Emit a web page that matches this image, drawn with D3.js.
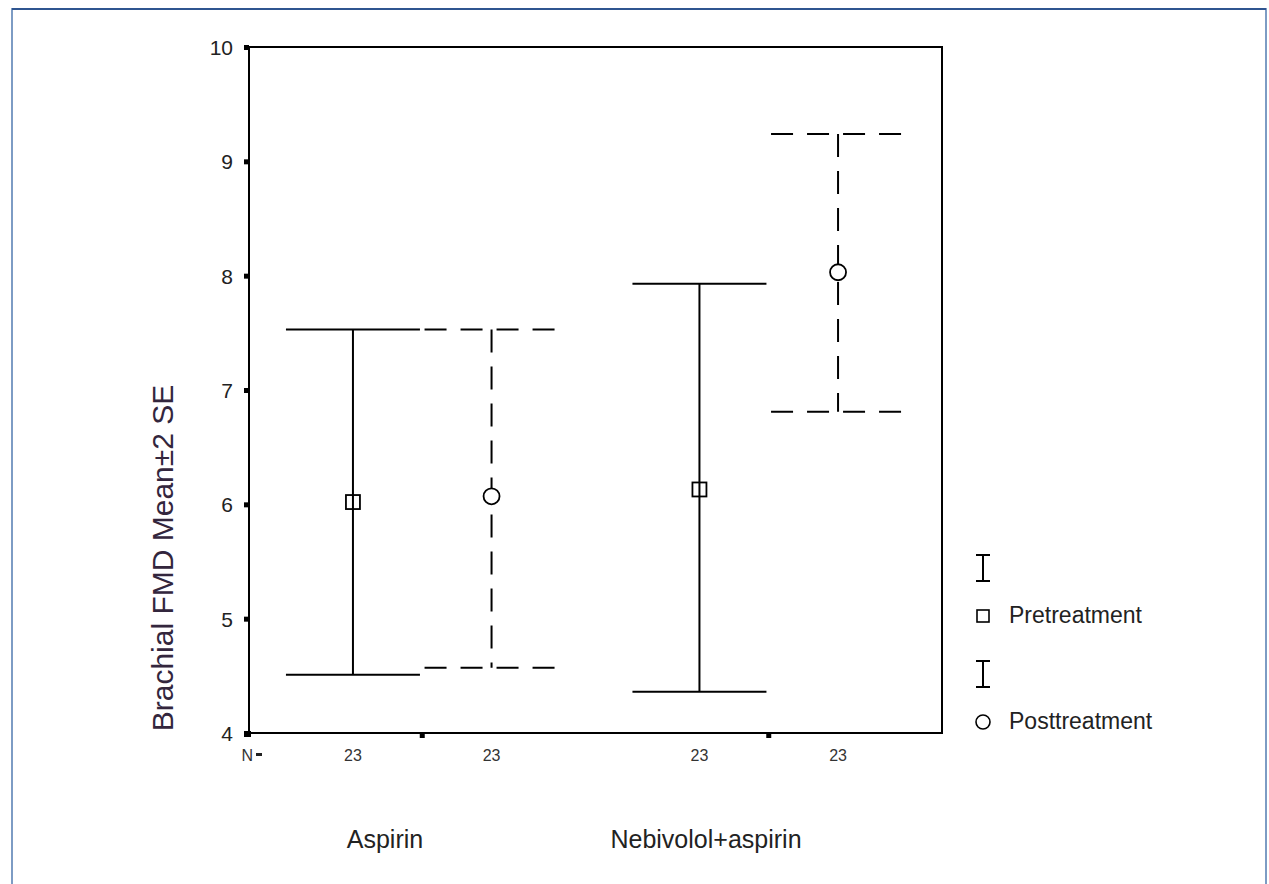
<!DOCTYPE html>
<html>
<head>
<meta charset="utf-8">
<script src="https://cdn.jsdelivr.net/npm/d3@7"></script>
<style>
  body { margin: 0; background: #fff; }
  text { font-family: "Liberation Sans", Arial, sans-serif; }
</style>
</head>
<body>
<svg id="chart" width="1269" height="884"></svg>
<script>
// data
const groups = ["Aspirin", "Nebivolol+aspirin"];
const series = ["Pretreatment", "Posttreatment"];
const preMean = [6.02, 6.13];
const preLow = [4.51, 4.36];
const preHigh = [7.53, 7.93];
const postMean = [6.07, 8.03];
const postLow = [4.57, 6.81];
const postHigh = [7.53, 9.24];
const nCount = [23, 23, 23, 23];
const yTicks = [4, 5, 6, 7, 8, 9, 10];

const svg = d3.select("#chart");

// page frame
svg.append("rect")
    .attr("x", 12).attr("y", 9)
    .attr("width", 1254).attr("height", 900)
    .attr("fill", "none")
    .attr("stroke", "#7d9cc4")
    .attr("stroke-width", 2);
svg.append("line")
    .attr("x1", 12).attr("x2", 1266)
    .attr("y1", 9).attr("y2", 9)
    .attr("stroke", "#2f5590")
    .attr("stroke-width", 2);

const plot = {left: 249, right: 942, top: 47, bottom: 733};

const y = d3.scaleLinear([4, 10], [plot.bottom, plot.top]);
const xg = d3.scaleBand(groups, [plot.left, plot.right]);
const xs = d3.scalePoint(series, [0, xg.bandwidth()]).padding(0.75);

const rows = [];
groups.forEach((g, i) => {
    rows.push({g: g, s: series[0], m: preMean[i], lo: preLow[i], hi: preHigh[i], n: nCount[i * 2]});
    rows.push({g: g, s: series[1], m: postMean[i], lo: postLow[i], hi: postHigh[i], n: nCount[i * 2 + 1]});
});
const px = d => xg(d.g) + xs(d.s);

// axes
const yAxis = svg.append("g")
    .attr("transform", "translate(" + plot.left + ",0)")
    .call(d3.axisLeft(y).tickValues(yTicks).tickFormat(d3.format("d")).tickSize(5).tickPadding(11));
yAxis.select(".domain").remove();
yAxis.selectAll("line").attr("stroke", "#000").attr("stroke-width", 5);
yAxis.selectAll("text")
    .attr("font-size", 21)
    .attr("fill", "#222")
    .attr("dy", "0.36em");

const xAxis = svg.append("g")
    .attr("transform", "translate(0," + plot.bottom + ")")
    .call(d3.axisBottom(xg).tickSize(5).tickFormat(""));
xAxis.select(".domain").remove();
xAxis.selectAll("line").attr("stroke", "#000").attr("stroke-width", 5);

// corner tick
svg.append("rect")
    .attr("x", plot.left - 5).attr("y", plot.bottom - 2)
    .attr("width", 7).attr("height", 6)
    .attr("fill", "#000");

// frame
svg.append("rect")
    .attr("x", plot.left).attr("y", plot.top)
    .attr("width", plot.right - plot.left)
    .attr("height", plot.bottom - plot.top)
    .attr("fill", "none")
    .attr("stroke", "#000")
    .attr("stroke-width", 2);

// N labels
svg.append("text")
    .attr("x", 253).attr("y", 761)
    .attr("text-anchor", "end")
    .attr("font-size", 16)
    .attr("fill", "#333")
    .text("N");
svg.append("rect")
    .attr("x", 256).attr("y", 753)
    .attr("width", 6).attr("height", 3)
    .attr("fill", "#222");
svg.selectAll(".nlab")
    .data(rows)
    .join("text")
    .attr("class", "nlab")
    .attr("x", px)
    .attr("y", 761)
    .attr("text-anchor", "middle")
    .attr("font-size", 16)
    .attr("fill", "#333")
    .text(d => d.n);

// error bars
const capHalf = 67;
const bars = svg.selectAll(".bar")
    .data(rows)
    .join("g")
    .attr("class", "bar")
    .attr("fill", "none")
    .attr("stroke", "#000")
    .attr("stroke-width", 2);

bars.append("line")
    .attr("x1", px).attr("x2", px)
    .attr("y1", d => y(d.hi)).attr("y2", d => y(d.lo))
    .attr("stroke-dasharray", d => d.s === series[1] ? "23,14" : "none");
bars.append("line")
    .attr("x1", d => px(d) - capHalf).attr("x2", d => px(d) + capHalf)
    .attr("y1", d => y(d.hi)).attr("y2", d => y(d.hi))
    .attr("stroke-dasharray", d => d.s === series[1] ? "22,14" : "none");
bars.append("line")
    .attr("x1", d => px(d) - capHalf).attr("x2", d => px(d) + capHalf)
    .attr("y1", d => y(d.lo)).attr("y2", d => y(d.lo))
    .attr("stroke-dasharray", d => d.s === series[1] ? "22,14" : "none");

bars.filter(d => d.s === series[0])
    .append("rect")
    .attr("x", d => px(d) - 7).attr("y", d => y(d.m) - 7)
    .attr("width", 14).attr("height", 14)
    .attr("stroke-width", 1.8);
bars.filter(d => d.s === series[1])
    .append("circle")
    .attr("cx", px).attr("cy", d => y(d.m))
    .attr("r", 8)
    .attr("fill", "#fff")
    .attr("stroke-width", 1.8);

// group labels
const groupLabelX = [385, 706];
svg.selectAll(".glab")
    .data(groups)
    .join("text")
    .attr("class", "glab")
    .attr("x", (d, i) => groupLabelX[i])
    .attr("y", 848)
    .attr("text-anchor", "middle")
    .attr("font-size", 25)
    .attr("fill", "#222")
    .text(d => d);

// y title
svg.append("text")
    .attr("transform", "translate(173,558) rotate(-90)")
    .attr("text-anchor", "middle")
    .attr("font-size", 30)
    .attr("fill", "#33263d")
    .text("Brachial FMD Mean\u00b12 SE");

// legend
const leg = svg.append("g")
    .attr("stroke", "#000")
    .attr("stroke-width", 2)
    .attr("fill", "none");
const legTop = [555, 661];
series.forEach((s, i) => {
    const t = legTop[i];
    leg.append("line").attr("x1", 983).attr("x2", 983).attr("y1", t).attr("y2", t + 26);
    leg.append("line").attr("x1", 976).attr("x2", 990).attr("y1", t).attr("y2", t);
    leg.append("line").attr("x1", 976).attr("x2", 990).attr("y1", t + 26).attr("y2", t + 26);
    if (i === 0) {
        leg.append("rect").attr("x", 977).attr("y", t + 55).attr("width", 12).attr("height", 12).attr("stroke-width", 1.6);
    } else {
        leg.append("circle").attr("cx", 983).attr("cy", t + 61).attr("r", 7).attr("stroke-width", 1.6);
    }
    svg.append("text")
        .attr("x", 1009).attr("y", t + 68)
        .attr("font-size", 23)
        .attr("fill", "#222")
        .text(s);
});
</script>
</body>
</html>
